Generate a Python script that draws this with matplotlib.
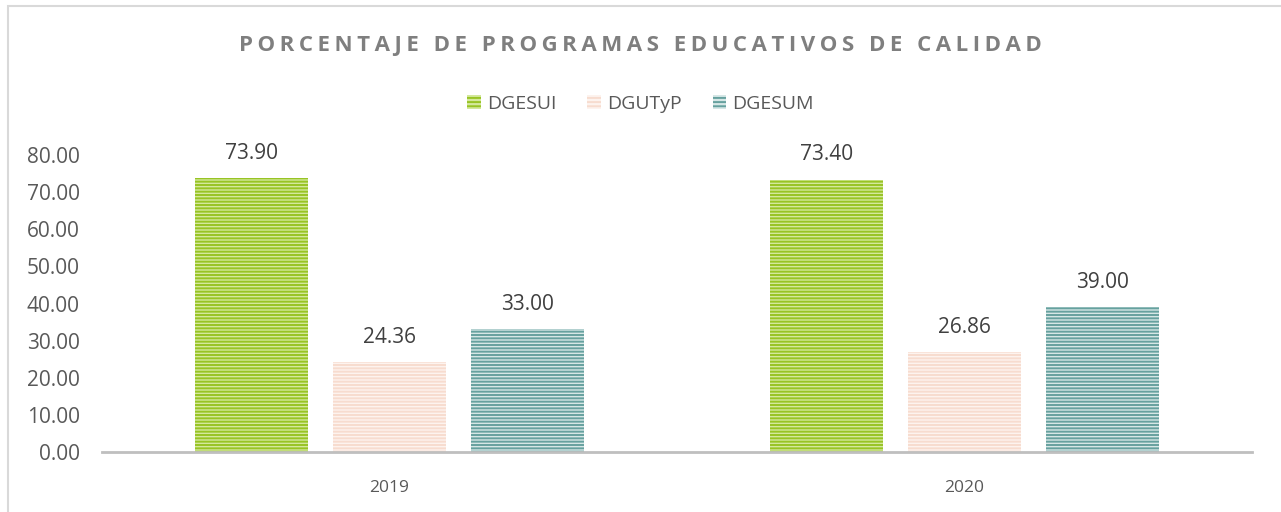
import matplotlib
matplotlib.use("Agg")
import matplotlib.pyplot as plt
from matplotlib.patches import Patch, Rectangle
import numpy as np

years = ["2019", "2020"]
series = ["DGESUI", "DGUTyP", "DGESUM"]
dgesui = [73.90, 73.40]
dgutyp = [24.36, 26.86]
dgesum = [33.00, 39.00]
yticks = [0, 10, 20, 30, 40, 50, 60, 70, 80]

title = "PORCENTAJE DE PROGRAMAS EDUCATIVOS DE CALIDAD"

# (face, hatch) colours
styles = [("#d4e89c", "#98c424"),
          ("#fdf3ee", "#f7dccf"),
          ("#d6e7e6", "#66a19f")]

plt.rcParams['font.family'] = ['Open Sans', 'DejaVu Sans']
plt.rcParams['hatch.linewidth'] = 1.4

fig = plt.figure(figsize=(12.81, 5.12), dpi=100)
ax = fig.add_axes([102/1281, 1 - 452/512, (1252 - 102)/1281, (452 - 155)/512])

x = np.arange(len(years))
width = 0.197
step = 0.24
for i, (name, vals) in enumerate(zip(series, [dgesui, dgutyp, dgesum])):
    fc, hc = styles[i]
    pos = x + (i - 1) * step
    ax.bar(pos, vals, width, color=fc, edgecolor=hc, hatch='-----', linewidth=0)
    for p, v in zip(pos, vals):
        ax.text(p, v + 6.6, f"{v:.2f}", ha='center', va='center',
                fontsize=15, color='#404040', clip_on=False)

ax.set_xlim(-0.5, 1.5)
ax.set_ylim(0, 80)
ax.set_yticks(yticks)
ax.set_yticklabels([f"{t:.2f}" for t in yticks], fontsize=15, color='#595959')
ax.set_xticks(x)
ax.set_xticklabels(years, fontsize=12.5, color='#595959')
ax.tick_params(length=0)
ax.tick_params(axis='y', pad=16)
ax.tick_params(axis='x', pad=20)
for s in ['top', 'right', 'left']:
    ax.spines[s].set_visible(False)
ax.spines['bottom'].set_color('#bfbfbf')
ax.spines['bottom'].set_linewidth(2)

# spaced-out title letters
fig.text(0.5, 1 - 45/512, "\u2009".join(title), ha='center', va='center',
         fontsize=16, fontweight='bold', color='#7f7f7f')

handles = [Patch(facecolor=styles[i][0], edgecolor=styles[i][1], hatch='----', linewidth=0)
           for i in range(3)]
fig.legend(handles, series, loc='center', bbox_to_anchor=(0.5, 1 - 104/512),
           ncol=3, frameon=False, fontsize=14, labelcolor='#595959',
           handlelength=0.7, handleheight=0.7, handletextpad=0.3, columnspacing=1.6)

fig.patches.append(Rectangle((8/1281, -0.1), 1.2, 1.1 - 6/512, transform=fig.transFigure,
                             fill=False, edgecolor='#d9d9d9', linewidth=1.5))

fig.savefig("out.png", dpi=100)
